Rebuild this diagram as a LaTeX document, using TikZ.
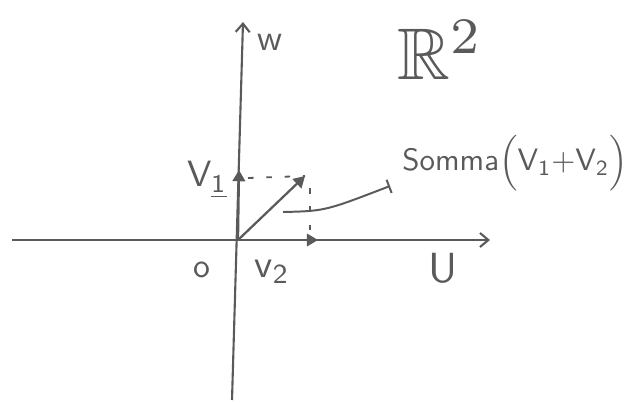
\documentclass[tikz,border=0pt]{standalone}
\usepackage{amsmath, amssymb}
\usetikzlibrary{arrows.meta}
\definecolor{mPencil}{HTML}{5A5A5A}

\begin{document}
\begin{tikzpicture}[x=0.025cm, y=-0.025cm,
    axis/.style={draw=mPencil, line width=1.5pt, -{Straight Barb[length=6pt, width=10pt]}},
    vec/.style={draw=mPencil, line width=1.6pt, -{Triangle[length=8pt, width=9pt]}},
    guide/.style={draw=mPencil, line width=1.3pt, dash pattern=on 4pt off 9pt},
    lab/.style={text=mPencil, font=\sffamily}]
    \useasboundingbox (0,0) rectangle (628,403);
    % axes
    \coordinate (O) at (238,240);
    \coordinate (uL) at (12,240);
    \coordinate (uR) at (490,240);
    \coordinate (wB) at (232,400);
    \coordinate (wT) at (243,22);
    \draw[axis] (uL) -- (uR);
    \draw[axis] (wB) -- (wT);
    % vectors
    \coordinate (v1) at (239,170);
    \coordinate (v2) at (318,240);
    \coordinate (s) at (305,176);
    \draw[vec] (O) -- (v1);
    \draw[vec] (O) -- (v2);
    \draw[vec] (O) -- (s);
    \draw[guide] (248,178) -- (s);
    \draw[guide] (310,188) -- (310,232);
    % labels
    \node[lab, scale=2.6] (w) at (270,42) {w};
    \node[text=mPencil, scale=5.2] (R) at (440,50) {$\mathbb{R}^2$};
    \node[lab, scale=2.6] (V1) at (207,180) {V$_{\underline{\mathsf{1}}}$};
    \node[lab, scale=2.4] (zero) at (202,270) {o};
    \node[lab, scale=2.8] (V2) at (272,272) {v$_{\mathsf{2}}$};
    \node[lab, scale=3] (U) at (443,268) {U};
    \node[lab, scale=2.2] (somma) at (515,163) {Somma$\Bigl($V$_{\mathsf{1}}$+V$_{\mathsf{2}}\Bigr)$};
    \coordinate (lead) at (283,212);
    \coordinate (tick) at (390,186);
    \draw[draw=mPencil, line width=1.4pt, -{Bar[width=10pt]}] (lead) .. controls (325,211) .. (tick);
\end{tikzpicture}
\end{document}
